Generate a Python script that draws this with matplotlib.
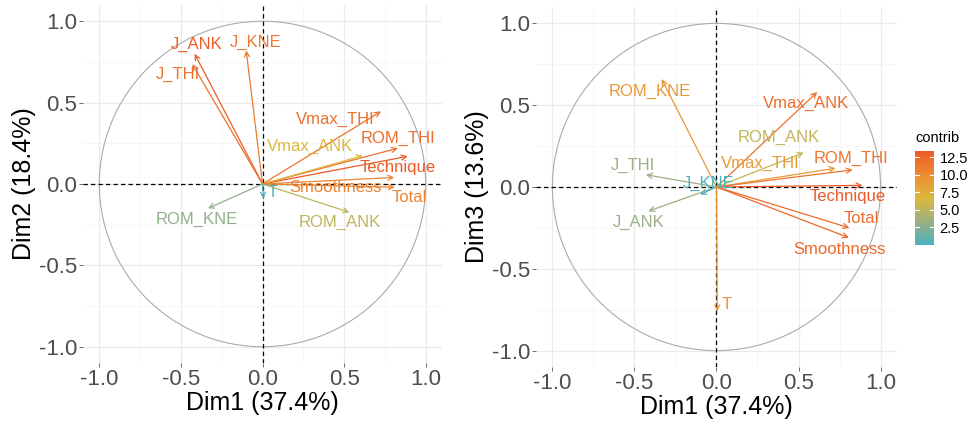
import numpy as np
import matplotlib
matplotlib.use("Agg")
import matplotlib.pyplot as plt
from matplotlib.colors import LinearSegmentedColormap, Normalize
from matplotlib.patches import Circle
from matplotlib.ticker import MultipleLocator

plt.rcParams['font.family'] = ['Liberation Sans', 'DejaVu Sans']

## data
variables = ["J_ANK", "J_THI", "J_KNE", "Vmax_THI", "ROM_THI", "Technique",
             "Vmax_ANK", "Smoothness", "Total", "ROM_ANK", "ROM_KNE", "T"]
dim1 = [-0.416, -0.43, -0.10, 0.726, 0.83, 0.89, 0.614, 0.807, 0.81, 0.532, -0.334, 0.005]
dim2 = [0.80, 0.736, 0.82, 0.446, 0.22, 0.17, 0.174, 0.04, -0.02, -0.174, -0.15, -0.09]
dim3 = [-0.148, 0.075, -0.047, 0.115, 0.105, 0.01, 0.58, -0.31, -0.25, 0.21, 0.66, -0.76]
contrib12 = [12.1, 10.7, 10.2, 10.8, 11.0, 12.2, 6.1, 9.7, 9.7, 4.7, 2.6, 0.1]
contrib13 = [3.2, 3.3, 0.2, 8.8, 11.4, 13.2, 11.8, 12.3, 12.0, 5.3, 9.0, 9.4]
ticks = [-1.0, -0.5, 0.0, 0.5, 1.0]
cbar_ticks = [2.5, 5.0, 7.5, 10.0, 12.5]

## label placement (offset from arrow tip, data units)
off12 = {"J_ANK": (0.01, 0.06), "J_THI": (-0.09, -0.06), "J_KNE": (0.06, 0.05),
         "Vmax_THI": (-0.28, -0.05), "ROM_THI": (0.0, 0.06), "Technique": (-0.06, -0.07),
         "Vmax_ANK": (-0.32, 0.055), "Smoothness": (-0.36, -0.06), "Total": (0.09, -0.066),
         "ROM_ANK": (-0.06, -0.06), "ROM_KNE": (-0.07, -0.07), "T": (0.06, 0.04)}
off13 = {"J_ANK": (-0.06, -0.067), "J_THI": (-0.08, 0.055), "J_KNE": (0.05, 0.067),
         "Vmax_THI": (-0.46, 0.03), "ROM_THI": (-0.01, 0.07), "Technique": (-0.09, -0.067),
         "Vmax_ANK": (-0.07, -0.07), "Smoothness": (-0.06, -0.07), "Total": (0.07, 0.06),
         "ROM_ANK": (-0.15, 0.09), "ROM_KNE": (-0.07, -0.075), "T": (0.06, 0.04)}

cmap = LinearSegmentedColormap.from_list(
    "contrib", [(0.0, "#4AB2C0"), (0.25, "#9DB083"), (0.5, "#DDB83D"),
                (0.75, "#EC8C32"), (1.0, "#EE5A28")])

fig = plt.figure(figsize=(9.79, 4.25), dpi=100)
ax1 = fig.add_axes([0.0848, 0.1459, 0.3667, 0.8424])
ax2 = fig.add_axes([0.5475, 0.1365, 0.3687, 0.847])


def draw_panel(ax, xs, ys, contrib, offsets, ylabel):
    norm = Normalize(0, max(contrib))
    ax.set_xlim(-1.1, 1.1)
    ax.set_ylim(-1.1, 1.1)
    for s in ax.spines.values():
        s.set_visible(False)
    ax.xaxis.set_minor_locator(MultipleLocator(0.25))
    ax.yaxis.set_minor_locator(MultipleLocator(0.25))
    ax.set_xticks(ticks)
    ax.set_yticks(ticks)
    ax.set_xticklabels([f"{t:.1f}" for t in ticks])
    ax.set_yticklabels([f"{t:.1f}" for t in ticks])
    ax.grid(True, which="major", color="#EBEBEB", lw=0.9, zorder=0)
    ax.grid(True, which="minor", color="#F3F3F3", lw=0.5, zorder=0)
    ax.tick_params(which="major", length=3, width=0.6, color="#555555",
                   labelsize=16, labelcolor="#4D4D4D", pad=1)
    ax.tick_params(which="minor", length=0)
    ax.set_axisbelow(True)
    ax.add_patch(Circle((0, 0), 1, fill=False, ec="#ABABAB", lw=0.8, zorder=1))
    ax.axhline(0, color="black", ls=(0, (3.5, 2.5)), lw=0.9, zorder=2)
    ax.axvline(0, color="black", ls=(0, (3.5, 2.5)), lw=0.9, zorder=2)
    for name, x, y, c in zip(variables, xs, ys, contrib):
        col = cmap(norm(c))
        ax.annotate("", xy=(x, y), xytext=(0, 0),
                    arrowprops=dict(arrowstyle="->", color=col, lw=0.9,
                                    shrinkA=0, shrinkB=0, mutation_scale=9),
                    zorder=3)
        dx, dy = offsets[name]
        ax.text(x + dx, y + dy, name, color=col, fontsize=12,
                ha="center", va="center", zorder=4)
    ax.set_xlabel("Dim1 (37.4%)", fontsize=18, labelpad=1)
    ax.set_ylabel(ylabel, fontsize=18, labelpad=2)
    return norm


draw_panel(ax1, dim1, dim2, contrib12, off12, "Dim2 (18.4%)")
draw_panel(ax2, dim1, dim3, contrib13, off13, "Dim3 (13.6%)")

## colour bar
cax = fig.add_axes([0.9346, 0.4235, 0.0194, 0.221])
grad = np.linspace(0, 13.4, 256).reshape(-1, 1)
cax.imshow(grad, aspect="auto", origin="lower", cmap=cmap,
           norm=Normalize(0, 13.4), extent=[0, 1, 0, 13.4])
for t in cbar_ticks:
    cax.plot([0, 0.2], [t, t], color="white", lw=0.8)
    cax.plot([0.8, 1], [t, t], color="white", lw=0.8)
cax.set_xlim(0, 1)
cax.set_ylim(0, 13.4)
cax.set_xticks([])
cax.yaxis.tick_right()
cax.set_yticks(cbar_ticks)
cax.set_yticklabels([f"{t:.1f}" for t in cbar_ticks])
cax.tick_params(axis="y", length=0, labelsize=10.5, labelcolor="black", pad=4)
for s in cax.spines.values():
    s.set_visible(False)
fig.text(0.9346, 0.675, "contrib", fontsize=10.5, ha="left", va="center")

fig.savefig("out.png", dpi=100)
